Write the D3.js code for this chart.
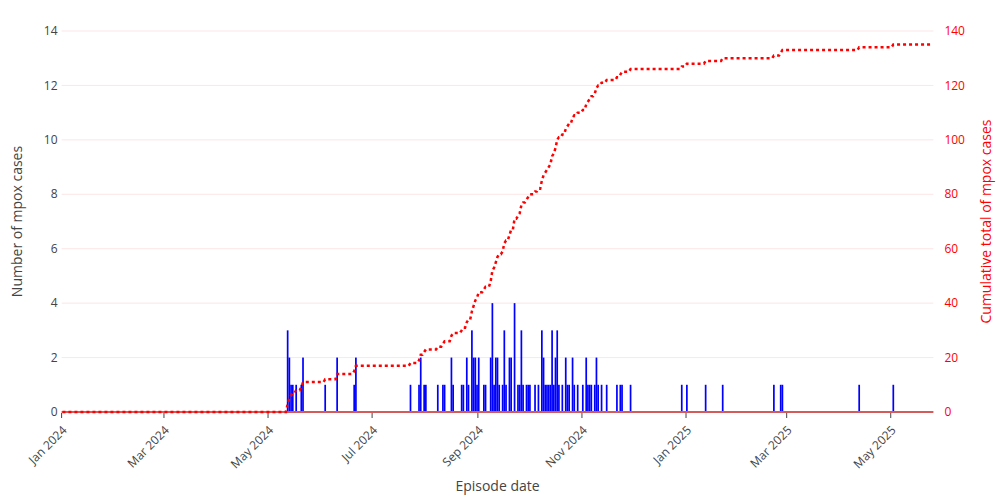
<!DOCTYPE html>
<html>
<head>
<meta charset="utf-8">
<script src="https://cdn.jsdelivr.net/npm/d3@7"></script>
<style>
  html, body { margin: 0; padding: 0; background: #fff; }
  svg { display: block; font-family: "Open Sans", "Noto Sans", sans-serif; }
</style>
</head>
<body>
<svg id="chart" width="1000" height="500"></svg>
<script>
// ---- data ----
const caseDates = [
  "2024-05-12","2024-05-13","2024-05-14","2024-05-15","2024-05-17","2024-05-20","2024-05-21",
  "2024-06-03","2024-06-10","2024-06-20","2024-06-21",
  "2024-07-23","2024-07-28","2024-07-29","2024-07-31","2024-08-01","2024-08-08","2024-08-11","2024-08-12",
  "2024-08-16","2024-08-17","2024-08-22","2024-08-23","2024-08-25","2024-08-26",
  "2024-08-28","2024-08-29","2024-08-30","2024-08-31","2024-09-01","2024-09-04","2024-09-05",
  "2024-09-08","2024-09-09","2024-09-10","2024-09-11","2024-09-12","2024-09-13","2024-09-15","2024-09-16",
  "2024-09-17","2024-09-19","2024-09-20","2024-09-22","2024-09-24","2024-09-25","2024-09-26","2024-09-27",
  "2024-09-29","2024-09-30","2024-10-01","2024-10-04","2024-10-06","2024-10-08","2024-10-09","2024-10-10",
  "2024-10-11","2024-10-12","2024-10-13","2024-10-14","2024-10-15","2024-10-16","2024-10-17","2024-10-18",
  "2024-10-20","2024-10-22","2024-10-23","2024-10-24","2024-10-26","2024-10-27","2024-10-29","2024-11-01",
  "2024-11-03","2024-11-04","2024-11-05","2024-11-06","2024-11-08","2024-11-09","2024-11-10","2024-11-12",
  "2024-11-15","2024-11-21","2024-11-23","2024-11-24","2024-11-29",
  "2024-12-29","2025-01-01","2025-01-12","2025-01-22","2025-02-21","2025-02-25","2025-02-26",
  "2025-04-12","2025-05-02"
];
const caseCounts = [
  3,2,1,1,1,1,2,
  1,2,1,2,
  1,1,2,1,1,1,1,1,
  2,1,1,1,2,1,
  3,2,2,1,2,1,1,
  2,4,1,2,2,1,1,3,
  1,2,2,4,1,1,3,1,
  1,1,1,1,1,3,2,1,
  1,1,1,3,1,2,3,1,
  1,2,1,1,2,1,1,1,
  2,1,1,1,1,2,1,1,
  1,1,1,1,1,
  1,1,1,1,1,1,1,
  1,1
];
const periodStart = "2024-01-01";
const periodEnd = "2025-05-25";
const xTickDates = ["2024-01-01","2024-03-01","2024-05-01","2024-07-01","2024-09-01","2024-11-01",
                    "2025-01-01","2025-03-01","2025-05-01"];
const leftTicks = [0,2,4,6,8,10,12,14];
const rightTicks = [0,20,40,60,80,100,120,140];

// ---- setup ----
const parse = d3.utcParse("%Y-%m-%d");
const fmt = d3.utcFormat("%b %Y");
const W = 1000, H = 500;
const m = { left: 61.6, right: 66.6, top: 31, bottom: 88 };
const svg = d3.select("#chart");

const start = parse(periodStart), end = parse(periodEnd);
const x = d3.scaleUtc()
  .domain([start, d3.utcDay.offset(end, 1)])
  .range([m.left, W - m.right]);
const y = d3.scaleLinear().domain([0, 14]).range([H - m.bottom, m.top]);
const y2 = d3.scaleLinear().domain([0, 140]).range([H - m.bottom, m.top]);

const cases = caseDates.map((d, i) => ({ date: parse(d), n: caseCounts[i] }));
const byDay = new Map(cases.map(c => [+c.date, c.n]));
let run = 0;
const cumulative = d3.utcDay.range(start, d3.utcDay.offset(end, 1)).map(d => {
  run += byDay.get(+d) || 0;
  return { date: d, total: run };
});
const mid = d => d3.utcHour.offset(d, 12);

// gridlines
svg.append("g").selectAll("line").data(rightTicks.filter(t => t > 0)).join("line")
  .attr("x1", m.left).attr("x2", W - m.right)
  .attr("y1", d => y2(d)).attr("y2", d => y2(d))
  .attr("stroke", "rgb(253,230,230)").attr("stroke-width", 1);

// bars
svg.append("g").selectAll("rect").data(cases).join("rect")
  .attr("x", d => x(d.date))
  .attr("width", d => x(d3.utcDay.offset(d.date, 1)) - x(d.date))
  .attr("y", d => y(d.n))
  .attr("height", d => y(0) - y(d.n))
  .attr("fill", "#0000ff");

// zero line
svg.append("line")
  .attr("x1", m.left).attr("x2", W - m.right)
  .attr("y1", y(0)).attr("y2", y(0))
  .attr("stroke", "#d55a5a").attr("stroke-width", 2);

// cumulative line
svg.append("path").datum(cumulative)
  .attr("fill", "none").attr("stroke", "#ff0000")
  .attr("stroke-width", 2.5).attr("stroke-dasharray", "3,3")
  .attr("d", d3.line().x(d => x(mid(d.date))).y(d => y2(d.total)));

// x axis ticks
const xt = svg.append("g");
xTickDates.map(parse).forEach(d => {
  xt.append("line").attr("x1", x(d)).attr("x2", x(d))
    .attr("y1", y(0) + 1).attr("y2", y(0) + 6)
    .attr("stroke", "#444").attr("stroke-width", 1);
  xt.append("text")
    .attr("transform", `translate(${x(d) + 3},${y(0) + 16}) rotate(-45)`)
    .attr("text-anchor", "end").attr("dy", "0.35em")
    .attr("font-size", 12).attr("fill", "#444")
    .text(fmt(d));
});

// left axis labels
svg.append("g").selectAll("text").data(leftTicks).join("text")
  .attr("x", m.left - 4).attr("y", d => y(d)).attr("dy", "0.35em")
  .attr("text-anchor", "end").attr("font-size", 12).attr("fill", "#444")
  .text(d => d);

// right axis labels
svg.append("g").selectAll("text").data(rightTicks).join("text")
  .attr("x", W - m.right + 11).attr("y", d => y2(d)).attr("dy", "0.35em")
  .attr("text-anchor", "start").attr("font-size", 12).attr("fill", "#ff0000")
  .text(d => d);

// axis titles
svg.append("text")
  .attr("x", (m.left + W - m.right) / 2).attr("y", 491)
  .attr("text-anchor", "middle").attr("font-size", 14).attr("fill", "#444")
  .text("Episode date");
svg.append("text")
  .attr("transform", `translate(22,${(y(0) + y(14)) / 2}) rotate(-90)`)
  .attr("text-anchor", "middle").attr("font-size", 14).attr("fill", "#444")
  .text("Number of mpox cases");
svg.append("text")
  .attr("transform", `translate(991,${(y(0) + y(14)) / 2}) rotate(-90)`)
  .attr("text-anchor", "middle").attr("font-size", 14).attr("fill", "#ff0000")
  .text("Cumulative total of mpox cases");
</script>
</body>
</html>
